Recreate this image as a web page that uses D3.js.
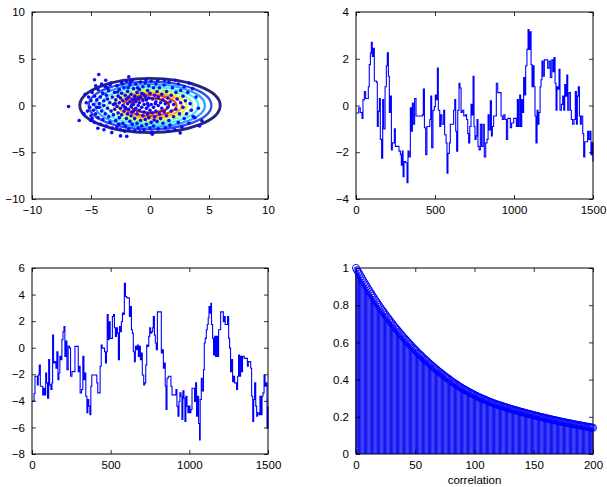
<!DOCTYPE html>
<html>
<head>
<meta charset="utf-8">
<script src="https://cdn.jsdelivr.net/npm/d3@7"></script>
<style>
  body { margin: 0; background: #fff; }
  text { font-family: "Liberation Sans", Arial, Helvetica, sans-serif; }
</style>
</head>
<body>
<script>
// ---- data ----
var xyTicks = [-10, -5, 0, 5, 10];
var seriesXTicks = [0, 500, 1000, 1500];
var topYTicks = [-4, -2, 0, 2, 4];
var bottomYTicks = [-8, -6, -4, -2, 0, 2, 4, 6];
var acfXTicks = [0, 50, 100, 150, 200];
var acfYTicks = [0, 0.2, 0.4, 0.6, 0.8, 1];

// contour ellipses (outer to inner): semi axes and jet colours
var contourRx = [5.95, 5.2, 4.65, 4.1, 3.6, 3.1, 2.7, 2.25, 1.6];
var contourRy = [2.9, 2.55, 2.28, 2.0, 1.76, 1.52, 1.32, 1.1, 0.78];
var contourColors = ["#25257e", "#2f4cee", "#2aa2ff", "#4ce8ff", "#8cffa0", "#e8f52e", "#ffac20", "#ff4014", "#aa1414"];

// scatter samples
var samples = [
  [-4.34,3.32],[-4.7,2.75],[-3.75,2.7],[-6.9,-0.1],[-6.0,-1.6],[-5.04,-1.6],[-4.42,-2.43],[-3.24,-2.9],
  [-2.5,-3.25],[-1.97,-3.3],[0.2,-3.07],[2.56,-2.93],[4.4,-1.64],[3.66,-1.18],[-1.8,3.07],[-3.38,2.2],
  [-5.4,0.3],[-5.3,-0.6],[-5.2,0.9],[-5.1,-0.2],[-5.0,-1.1],[-5.0,0.5],[-4.9,1.4],[-4.8,-0.5],[-4.8,0.1],
  [-4.7,-1.8],[-4.7,1.0],[-4.6,-0.9],[-4.5,0.6],[-4.5,-0.2],[-4.4,1.7],[-4.4,-1.3],[-4.3,0.2],[-4.2,-2.0],
  [-4.2,0.9],[-4.1,-0.6],[-4.0,1.3],[-4.0,-1.5],[-3.9,0.0],[-3.9,0.5],[-3.8,-0.9],[-3.8,2.0],[-3.7,-2.2],
  [-3.7,1.1],[-3.6,-0.3],[-3.6,0.7],[-3.5,-1.2],[-3.5,1.6],[-3.4,0.3],[-3.4,-1.8],[-3.3,-0.6],[-3.3,2.4],
  [-3.2,0.9],[-3.2,-2.4],[-3.1,0.1],[-3.1,-1.0],[-3.0,1.4],[-3.0,-0.4],[-5.6,-0.9],[-5.5,1.2],[-4.6,2.1],
  [-4.9,-1.4],[-4.1,2.3],[-3.9,-2.6],[-4.3,-0.2],[-3.6,1.9],
  [-2.9,-1.6],[-2.9,0.6],[-2.8,2.1],[-2.8,-0.1],[-2.8,-2.3],[-2.7,1.0],[-2.7,-0.8],[-2.6,0.3],[-2.6,1.7],
  [-2.6,-1.3],[-2.5,-2.6],[-2.5,0.8],[-2.5,-0.3],[-2.4,2.5],[-2.4,1.3],[-2.4,-1.0],[-2.3,0.0],[-2.3,-1.9],
  [-2.3,0.5],[-2.2,1.9],[-2.2,-0.6],[-2.1,-2.2],[-2.1,1.1],[-2.1,-0.2],[-2.0,0.7],[-2.0,-1.4],[-2.0,2.6],
  [-1.9,0.2],[-1.9,-0.9],[-1.9,1.5],[-1.8,-2.5],[-1.8,-0.4],[-1.8,0.9],[-1.7,2.2],[-1.7,-1.7],[-1.7,0.4],
  [-1.6,-0.1],[-1.6,1.2],[-1.6,-1.1],[-1.5,2.7],[-1.5,0.6],[-1.5,-2.0],[-1.4,-0.6],[-1.4,1.8],[-1.4,0.1],
  [-1.3,-1.4],[-1.3,1.0],[-1.3,-2.7],[-1.2,0.4],[-1.2,-0.3],[-1.2,2.3],[-1.1,-0.9],[-1.1,1.4],[-1.1,-1.9],
  [-1.0,0.0],[-1.0,0.8],[-1.0,-2.4],[-2.95,0.2],[-2.65,-2.0],[-2.35,2.3],[-2.05,-0.3],[-1.85,1.9],
  [-1.55,-0.7],[-1.25,0.7],[-1.05,1.9],[-2.75,1.45],[-2.15,-2.75],[-1.65,2.55],
  [-0.9,-0.5],[-0.9,1.7],[-0.9,0.3],[-0.8,-1.6],[-0.8,2.5],[-0.8,0.9],[-0.7,-0.2],[-0.7,-2.2],[-0.7,1.3],
  [-0.6,0.5],[-0.6,-1.1],[-0.6,2.0],[-0.5,-0.7],[-0.5,0.1],[-0.5,-2.6],[-0.4,1.0],[-0.4,-1.5],[-0.4,2.4],
  [-0.3,-0.3],[-0.3,0.6],[-0.3,-2.0],[-0.2,1.6],[-0.2,-0.9],[-0.2,0.2],[-0.1,2.1],[-0.1,-1.3],[-0.1,0.8],
  [0.0,-0.5],[0.0,-2.4],[0.0,1.3],[0.1,0.1],[0.1,-1.8],[0.1,2.6],[0.2,0.7],[0.2,-0.8],[0.3,1.9],[0.3,-0.2],
  [0.3,-2.2],[0.4,1.1],[0.4,-1.2],[0.5,0.4],[0.5,-0.6],[0.5,2.3],[0.6,-1.7],[0.6,1.5],[0.7,0.0],[0.7,-2.5],
  [0.7,0.9],[0.8,-0.9],[0.8,1.9],[0.9,0.3],[0.9,-1.4],[1.0,-0.3],[1.0,1.2],[-0.85,-2.8],[-0.35,2.75],
  [0.15,-2.85],[0.65,2.65],[-0.55,1.2],[0.35,-1.55],[-0.15,-0.05],[0.45,0.2],
  [1.1,-1.9],[1.1,0.6],[1.2,2.2],[1.2,-0.7],[1.3,0.2],[1.3,-2.4],[1.4,1.5],[1.4,-1.1],[1.5,0.8],[1.5,-0.2],
  [1.6,2.5],[1.6,-1.6],[1.7,0.4],[1.7,-2.1],[1.8,1.1],[1.8,-0.6],[1.9,1.9],[2.0,-1.2],[2.0,0.1],[2.1,-2.6],
  [2.2,1.4],[2.2,-0.4],[2.3,0.7],[2.4,-1.8],[2.4,2.3],[2.5,-0.9],[2.6,0.3],[2.6,1.6],[2.7,-2.3],[2.8,-0.2],
  [2.8,1.0],[2.9,-1.4],[3.0,0.5],[1.25,2.7],[2.15,2.7],[1.55,-2.75],[2.9,2.0],
  [3.1,-0.9],[3.2,1.4],[3.3,-1.9],[3.4,0.2],[3.5,-0.5],[3.6,1.8],[3.8,-1.3],[3.9,0.9],[4.1,-0.3],[4.2,-2.2],[3.3,2.4]
];

// first chain trace [step, value]
var chainA = [
  [0,-0.32],[17,-0.1],[27,-0.3],[38,-0.55],[44,0.25],[53,0.6],[61,0.3],[70,0.3],[78,0.8],[84,1.75],
  [91,2.25],[97,2.7],[103,2.1],[110,2.45],[116,1.05],[129,1.0],[135,-0.9],[141,-0.25],[148,0.3],[154,-1.45],
  [162,-2.25],[169,0.25],[175,-1.0],[184,0.8],[192,1.7],[198,2.25],[205,1.25],[211,-0.3],[217,0.4],[224,-1.9],
  [230,-1.6],[243,-1.0],[249,-1.75],[260,-1.75],[272,-1.95],[281,-2.1],[287,-2.55],[293,-1.95],[298,-3.05],[304,-2.4],
  [314,-2.45],[323,-3.3],[329,-1.95],[336,-2.2],[344,-0.1],[350,-1.1],[357,0.1],[363,-0.8],[371,0.3],[380,-0.45],
  [390,-0.45],[407,-0.45],[420,-0.4],[426,0.7],[433,-0.95],[441,-2.1],[449,-0.9],[458,-0.9],[467,-0.6],[473,0.4],
  [479,-1.8],[487,-0.2],[496,-0.05],[502,0.45],[508,0.25],[515,1.6],[521,-0.2],[530,-0.9],[536,-0.4],[544,-0.8],
  [555,-0.2],[561,-1.25],[570,-1.6],[576,-2.9],[582,-2.05],[591,-1.6],[597,-0.8],[610,-0.8],[618,-0.2],[625,0.25],
  [631,-1.1],[637,-1.95],[644,-0.2],[652,0.95],[658,0.75],[665,-0.3],[673,-0.2],[682,-0.45],[692,-0.4],[700,-0.6],
  [707,-1.2],[713,-1.6],[720,-0.9],[728,0.05],[734,-0.4],[741,1.25],[747,-0.9],[753,-1.45],[760,-1.3],[766,-0.6],
  [772,-1.75],[779,-1.9],[787,-0.8],[795,-1.75],[804,-0.8],[812,-2.2],[821,-1.6],[829,-1.45],[836,-0.4],[842,-1.05],
  [850,0.2],[857,-1.3],[863,-0.9],[871,-0.45],[880,-0.45],[888,0.95],[897,0.55],[909,0.55],[918,-0.45],[926,-0.6],
  [935,-0.4],[943,-0.6],[952,-1.45],[960,-0.55],[969,-0.55],[977,-0.95],[985,-0.75],[998,-0.55],[1009,-0.55],[1015,-0.9],
  [1021,0.25],[1028,-0.9],[1036,0.45],[1042,-0.9],[1049,0.25],[1055,-0.3],[1061,1.2],[1068,0.45],[1074,1.7],[1082,2.4],
  [1089,3.25],[1095,2.4],[1101,3.15],[1108,1.75],[1114,0.8],[1120,1.7],[1127,0.8],[1133,-0.45],[1139,-1.6],[1146,-0.2],
  [1152,-0.8],[1158,-0.3],[1165,0.8],[1171,1.1],[1177,1.9],[1184,1.25],[1192,1.95],[1205,1.95],[1213,1.6],[1222,1.9],
  [1230,1.2],[1239,1.95],[1247,1.45],[1253,2.05],[1260,0.95],[1266,-0.2],[1272,0.8],[1279,0.7],[1285,1.55],[1291,-0.2],
  [1300,0.05],[1308,0.4],[1315,-0.2],[1321,0.9],[1327,0.4],[1334,1.3],[1340,-0.2],[1348,0.55],[1357,-0.2],[1363,-0.6],
  [1371,-0.8],[1380,-0.6],[1388,0.6],[1395,-0.8],[1401,0.4],[1407,0.8],[1414,-0.45],[1420,-0.8],[1426,-0.45],[1435,-1.2],
  [1441,-2.2],[1448,-1.55],[1458,-1.55],[1466,-1.1],[1473,-1.45],[1481,-1.1],[1487,-2.1],[1494,-1.6],[1500,-2.4]
];

// second chain trace [step, value]
var chainB = [
  [0,-4.05],[6,-4.0],[13,-3.45],[19,-2.15],[27,-2.15],[34,-2.8],[40,-2.05],[46,-1.3],[53,-2.9],[61,-2.9],
  [68,-3.55],[74,-3.05],[80,-3.55],[87,-1.9],[93,-2.65],[99,-3.8],[106,-0.9],[112,-2.8],[120,-3.15],[127,-2.65],
  [131,0.95],[137,-1.15],[144,-1.05],[152,-1.55],[158,-0.3],[165,-2.4],[171,-1.9],[177,-0.65],[184,-0.9],[190,0.6],
  [197,1.2],[203,1.6],[209,-0.65],[216,0.5],[222,-1.65],[230,0.1],[239,-0.03],[245,-2.15],[254,-1.8],[264,-1.8],
  [273,0.1],[285,0.1],[294,-1.8],[300,-1.4],[306,-3.4],[315,-3.15],[323,-0.65],[330,-2.4],[336,-1.9],[342,-3.65],
  [349,-4.9],[355,-3.9],[361,-4.4],[368,-5.05],[374,-2.9],[380,-2.05],[391,-2.05],[404,-2.05],[412,-2.65],[418,-3.4],
  [427,-3.4],[433,-1.4],[440,0.2],[446,-0.03],[454,-0.03],[461,-0.3],[467,-1.15],[473,-0.3],[478,2.5],[484,0.6],
  [490,1.95],[497,0.7],[505,0.7],[511,2.35],[518,2.5],[524,1.5],[530,0.85],[537,1.5],[543,1.1],[549,-0.9],
  [556,1.6],[562,1.2],[568,1.95],[575,2.6],[581,2.5],[587,4.85],[594,3.85],[602,3.75],[613,3.75],[619,2.35],
  [626,3.1],[632,1.35],[638,1.1],[644,-0.3],[651,-1.05],[657,0.1],[664,-0.15],[670,0.2],[676,-0.65],[682,0.1],
  [689,-0.9],[695,-0.4],[701,-2.05],[710,-2.8],[716,-2.65],[723,-1.3],[729,0.2],[735,0.1],[742,0.85],[748,1.5],
  [754,1.1],[761,1.2],[767,1.5],[771,2.35],[778,0.95],[784,0.35],[790,-0.15],[797,2.7],[805,2.7],[816,2.7],
  [822,-0.4],[829,-0.15],[835,-1.55],[841,-1.15],[847,-2.9],[852,-4.65],[858,-2.3],[866,-2.15],[877,-2.15],[883,-2.9],
  [890,-3.55],[900,-3.55],[909,-3.55],[915,-3.15],[921,-4.4],[928,-5.15],[934,-4.05],[940,-3.4],[947,-3.65],[953,-5.4],
  [959,-3.25],[966,-3.8],[972,-5.55],[978,-3.65],[985,-4.4],[991,-4.9],[997,-4.4],[1004,-4.9],[1010,-4.65],[1017,-3.05],
  [1027,-3.05],[1033,-4.05],[1040,-2.65],[1046,-5.15],[1052,-3.65],[1059,-5.7],[1065,-6.95],[1069,-3.9],[1076,-2.3],[1082,-3.25],
  [1090,-1.65],[1095,0.35],[1101,0.7],[1108,1.35],[1114,1.75],[1120,2.25],[1125,3.1],[1131,2.6],[1137,3.35],[1141,1.75],
  [1148,0.7],[1154,-0.55],[1161,0.85],[1167,-0.65],[1173,0.85],[1180,-0.65],[1186,1.35],[1192,1.35],[1199,2.7],[1209,2.7],
  [1216,1.95],[1222,2.35],[1228,1.75],[1237,1.75],[1243,2.35],[1250,0.7],[1256,-0.03],[1262,-1.8],[1269,-0.9],[1275,-2.55],
  [1281,-2.15],[1288,-2.65],[1294,-2.65],[1300,-3.15],[1307,-2.15],[1313,-0.55],[1319,-2.15],[1326,-0.65],[1332,-1.8],[1338,-0.65],
  [1349,-0.8],[1362,-0.8],[1369,-1.4],[1375,-1.05],[1383,-1.05],[1390,-1.55],[1396,-3.65],[1403,-5.55],[1409,-3.9],[1415,-2.65],
  [1422,-4.4],[1428,-5.15],[1434,-4.9],[1443,-5.05],[1449,-3.65],[1456,-5.05],[1462,-3.65],[1468,-3.4],[1475,-2.05],[1481,-2.9],
  [1487,-2.65],[1494,-6.05],[1500,-4.4]
];

// autocorrelation, lags 0..200
var acf = [
  1.000,0.988,0.977,0.966,0.955,0.944,0.933,0.922,0.911,0.901,
  0.890,0.880,0.870,0.860,0.850,0.840,0.830,0.821,0.811,0.802,
  0.792,0.783,0.774,0.765,0.757,0.748,0.739,0.731,0.722,0.714,
  0.705,0.697,0.689,0.681,0.673,0.666,0.658,0.650,0.643,0.635,
  0.628,0.621,0.614,0.607,0.600,0.593,0.586,0.579,0.572,0.566,
  0.559,0.553,0.546,0.540,0.534,0.528,0.521,0.515,0.509,0.504,
  0.498,0.492,0.486,0.481,0.475,0.470,0.464,0.459,0.454,0.448,
  0.443,0.438,0.433,0.428,0.423,0.418,0.413,0.409,0.404,0.399,
  0.394,0.390,0.385,0.381,0.377,0.373,0.368,0.364,0.360,0.356,
  0.352,0.349,0.345,0.341,0.338,0.334,0.331,0.327,0.324,0.321,
  0.318,0.314,0.311,0.308,0.305,0.302,0.299,0.297,0.294,0.291,
  0.288,0.286,0.283,0.280,0.278,0.275,0.273,0.271,0.268,0.266,
  0.264,0.262,0.260,0.258,0.256,0.254,0.252,0.250,0.248,0.246,
  0.244,0.242,0.240,0.238,0.236,0.235,0.233,0.231,0.229,0.227,
  0.226,0.224,0.222,0.220,0.219,0.217,0.215,0.214,0.212,0.210,
  0.209,0.207,0.206,0.204,0.202,0.201,0.199,0.198,0.196,0.195,
  0.193,0.192,0.190,0.189,0.187,0.186,0.184,0.183,0.181,0.180,
  0.179,0.177,0.176,0.174,0.173,0.172,0.170,0.169,0.168,0.166,
  0.165,0.164,0.163,0.161,0.160,0.159,0.158,0.156,0.155,0.154,
  0.153,0.152,0.150,0.149,0.148,0.147,0.146,0.145,0.144,0.142,
  0.141
];

var W = 607, H = 487;
var FONT = 11.5;
var svg = d3.select("body").append("svg")
    .attr("width", W)
    .attr("height", H);

//draws a boxed matlab-style axes, ticks pointing in
function makeAxes(box, xDomain, yDomain, xTicks, yTicks) {
	var x = d3.scaleLinear().domain(xDomain).range([box.x0, box.x1]);
	var y = d3.scaleLinear().domain(yDomain).range([box.y1, box.y0]);
	var g = svg.append("g");

	var fmt = function(d) { return d3.format("")(d).replace("-", "\u2212"); };

	g.append("g").attr("transform", "translate(0," + box.y1 + ")")
		.call(d3.axisBottom(x).tickValues(xTicks).tickSize(-4).tickPadding(7).tickFormat(fmt));
	g.append("g").attr("transform", "translate(0," + box.y0 + ")")
		.call(d3.axisTop(x).tickValues(xTicks).tickSize(-4).tickFormat(""));
	g.append("g").attr("transform", "translate(" + box.x0 + ",0)")
		.call(d3.axisLeft(y).tickValues(yTicks).tickSize(-4).tickPadding(7).tickFormat(fmt));
	g.append("g").attr("transform", "translate(" + box.x1 + ",0)")
		.call(d3.axisRight(y).tickValues(yTicks).tickSize(-4).tickFormat(""));

	g.selectAll(".domain").remove();
	g.selectAll(".tick line").attr("stroke", "#000").attr("stroke-width", 0.8);
	g.selectAll(".tick text").attr("font-size", FONT).attr("fill", "#000")
		.style("font-family", "'Liberation Sans', Arial, Helvetica, sans-serif");

	g.append("rect")
		.attr("x", box.x0).attr("y", box.y0)
		.attr("width", box.x1 - box.x0).attr("height", box.y1 - box.y0)
		.attr("fill", "none").attr("stroke", "#000").attr("stroke-width", 1);

	return {x: x, y: y, g: g};
}

var boxTL = {x0: 32, x1: 268, y0: 12, y1: 199};
var boxTR = {x0: 356, x1: 593, y0: 12, y1: 199};
var boxBL = {x0: 32, x1: 268, y0: 268, y1: 454};
var boxBR = {x0: 356, x1: 593, y0: 268, y1: 454};

// ---- top left: contours + samples ----
var pTL = makeAxes(boxTL, [-10, 10], [-10, 10], xyTicks, xyTicks);
var layerTL = svg.insert("g", ":first-child");
layerTL.selectAll("ellipse")
	.data(contourRx)
	.enter().append("ellipse")
		.attr("cx", pTL.x(0))
		.attr("cy", pTL.y(0))
		.attr("rx", function(d) { return pTL.x(d) - pTL.x(0); })
		.attr("ry", function(d, i) { return pTL.y(0) - pTL.y(contourRy[i]); })
		.attr("fill", "none")
		.attr("stroke", function(d, i) { return contourColors[i]; })
		.attr("stroke-width", function(d, i) { return i == 0 ? 2.9 : 2.3; });
layerTL.selectAll("circle")
	.data(samples)
	.enter().append("circle")
		.attr("cx", function(d) { return pTL.x(d[0]); })
		.attr("cy", function(d) { return pTL.y(d[1]); })
		.attr("r", 1.8)
		.attr("fill", "#0a0af5");

// ---- top right / bottom left: traces ----
var pTR = makeAxes(boxTR, [0, 1500], [-4, 4], seriesXTicks, topYTicks);
var pBL = makeAxes(boxBL, [0, 1500], [-8, 6], seriesXTicks, bottomYTicks);

function drawTrace(p, data) {
	var line = d3.line()
		.x(function(d) { return p.x(d[0]); })
		.y(function(d) { return p.y(d[1]); })
		.curve(d3.curveStepAfter);
	svg.insert("path", ":first-child")
		.datum(data)
		.attr("d", line)
		.attr("fill", "none")
		.attr("stroke", "#0000ff")
		.attr("stroke-width", 1.1);
}
drawTrace(pTR, chainA);
drawTrace(pBL, chainB);

// ---- bottom right: stem plot of autocorrelation ----
var pBR = makeAxes(boxBR, [0, 200], [0, 1], acfXTicks, acfYTicks);
var layerBR = svg.insert("g", ":first-child");
layerBR.selectAll("line")
	.data(acf)
	.enter().append("line")
		.attr("x1", function(d, i) { return pBR.x(i); })
		.attr("x2", function(d, i) { return pBR.x(i); })
		.attr("y1", pBR.y(0))
		.attr("y2", function(d) { return pBR.y(d); })
		.attr("stroke", "#1515f5")
		.attr("stroke-width", 1.3);
svg.selectAll("circle.acf")
	.data(acf)
	.enter().append("circle")
		.attr("class", "acf")
		.attr("cx", function(d, i) { return pBR.x(i); })
		.attr("cy", function(d) { return pBR.y(d); })
		.attr("r", 3.6)
		.attr("fill", "none")
		.attr("stroke", "#0000ff")
		.attr("stroke-width", 0.9);

svg.append("text")
	.attr("x", (boxBR.x0 + boxBR.x1) / 2)
	.attr("y", 484)
	.attr("text-anchor", "middle")
	.attr("font-size", FONT)
	.text("correlation");
</script>
</body>
</html>
